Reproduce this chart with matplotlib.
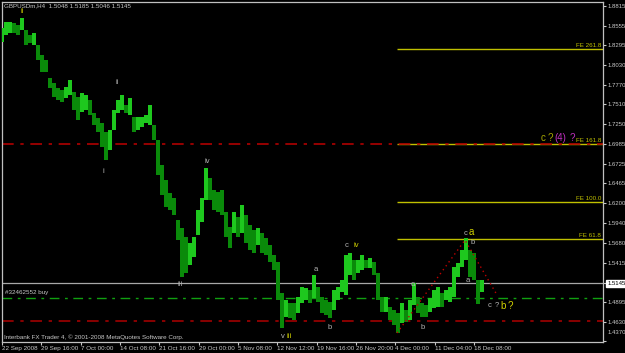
import numpy as np
import matplotlib
matplotlib.use('Agg')
import matplotlib.pyplot as plt
import matplotlib.transforms as mtransforms

# H4 bar highs / lows (one entry every ~4 px)
high = [1.8524, 1.8603, 1.8603, 1.8590, 1.8564, 1.8656, 1.8497, 1.8431, 1.8458, 1.8298,
        1.8166, 1.8099, 1.7861, 1.7795, 1.7728, 1.7702, 1.7742, 1.7834, 1.7675, 1.7609,
        1.7662, 1.7636, 1.7569, 1.7397, 1.7331, 1.7265, 1.7145, 1.7172, 1.7437, 1.7569,
        1.7636, 1.7503, 1.7596, 1.7344, 1.7344, 1.7344, 1.7371, 1.7503, 1.7238, 1.7039,
        1.6708, 1.6509, 1.6337, 1.6270, 1.5979, 1.5873, 1.5753, 1.5674, 1.5753, 1.6111,
        1.6270, 1.6668, 1.6535, 1.6376, 1.6350, 1.6376, 1.6085, 1.5886, 1.6085, 1.6019,
        1.6177, 1.6045, 1.5912, 1.5846, 1.5873, 1.5806, 1.5740, 1.5647, 1.5515, 1.5422,
        1.5011, 1.4918, 1.4878, 1.4878, 1.4958, 1.5090, 1.5077, 1.5051, 1.5250, 1.5090,
        1.4958, 1.4918, 1.4892, 1.5051, 1.5090, 1.5183, 1.5515, 1.5541, 1.5448, 1.5448,
        1.5515, 1.5448, 1.5475, 1.5422, 1.5276, 1.4958, 1.4958, 1.4825, 1.4786, 1.4746,
        1.4878, 1.4786, 1.4918, 1.5144, 1.4958, 1.4878, 1.4852, 1.4945, 1.5051, 1.5090,
        1.5011, 1.5051, 1.5090, 1.5356, 1.5409, 1.5581, 1.5740, 1.5581, 1.5541, 1.5183,
        1.5183]
low = [1.8338, 1.8431, 1.8458, 1.8458, 1.8431, 1.8497, 1.8298, 1.8325, 1.8298, 1.8099,
       1.7941, 1.7941, 1.7728, 1.7609, 1.7569, 1.7543, 1.7596, 1.7636, 1.7437, 1.7304,
       1.7410, 1.7437, 1.7371, 1.7238, 1.7145, 1.6946, 1.6774, 1.6906, 1.7172, 1.7397,
       1.7437, 1.7397, 1.7371, 1.7145, 1.7172, 1.7212, 1.7265, 1.7238, 1.7039, 1.6575,
       1.6310, 1.6151, 1.6111, 1.6045, 1.5713, 1.5223, 1.5276, 1.5382, 1.5488, 1.5780,
       1.5952, 1.6244, 1.6244, 1.6111, 1.6085, 1.6045, 1.5753, 1.5607, 1.5806, 1.5753,
       1.5806, 1.5674, 1.5581, 1.5541, 1.5647, 1.5541, 1.5515, 1.5422, 1.5316, 1.4918,
       1.4547, 1.4693, 1.4680, 1.4653, 1.4746, 1.4878, 1.4918, 1.4878, 1.4945, 1.4892,
       1.4746, 1.4719, 1.4680, 1.4786, 1.4918, 1.5024, 1.4985, 1.5250, 1.5183, 1.5276,
       1.5316, 1.5342, 1.5342, 1.5250, 1.4918, 1.4759, 1.4759, 1.4653, 1.4587, 1.4481,
       1.4613, 1.4627, 1.4653, 1.4852, 1.4746, 1.4693, 1.4693, 1.4759, 1.4812, 1.4825,
       1.4825, 1.4918, 1.4892, 1.4958, 1.5223, 1.5356, 1.5448, 1.5223, 1.5183, 1.4865,
       1.5024]

date_labels = ['22 Sep 2008', '29 Sep 16:00', '7 Oct 00:00', '14 Oct 08:00', '21 Oct 16:00',
               '29 Oct 00:00', '5 Nov 08:00', '12 Nov 12:00', '19 Nov 16:00', '26 Nov 20:00',
               '4 Dec 00:00', '11 Dec 04:00', '18 Dec 08:00']
price_ticks = [1.8815, 1.8555, 1.8295, 1.8030, 1.7770, 1.7510, 1.7250, 1.6985, 1.6725,
               1.6465, 1.6200, 1.5940, 1.5680, 1.5415, 1.5145, 1.4895, 1.4630, 1.4370]
current_price = 1.5145
buy_price = 1.4950
stop_price = 1.4635
target_price = 1.6982
fe_levels = [1.8240, 1.6982, 1.6213, 1.5726]
fe_names = ['FE 261.8', 'FE 161.8', 'FE 100.0', 'FE 61.8']
zz_bar = [98.75, 115.75, 123.75]
zz_price = [1.4481, 1.5713, 1.4985]

BG = 'black'
FG = '#c8c8c8'
WAVE = '#b4b4b4'
YEL = '#d2d200'
FE_COL = '#c0c000'
SMALL = 4.5
plt.rcParams['font.family'] = ['Liberation Sans', 'DejaVu Sans']

fig = plt.figure(figsize=(6.25, 3.53), dpi=100, facecolor=BG)
ax = fig.add_axes([2/625, 11.5/353, 601/625, 340/353], facecolor=BG)

idx = np.arange(len(high))
hi = np.array(high)
lo = np.array(low)
mid = (hi + lo) / 2
up = np.r_[True, mid[1:] >= mid[:-1]]
cols = np.where(up, '#1ec81e', '#0a8a0a')
ax.bar(idx, hi - lo, bottom=lo, width=0.9, color=cols, linewidth=0, zorder=3)

# horizontal levels
ax.axhline(current_price, color='#a8a8a8', lw=0.9, zorder=2)
ax.axhline(buy_price, color='#10a010', lw=1, ls=(0, (7, 4, 2, 4)), zorder=2)
ax.axhline(stop_price, color='#a00000', lw=1.2, ls=(0, (7, 4, 2, 4)), zorder=2)
ax.hlines(fe_levels, zz_bar[0], 150.25, color=FE_COL, lw=1, zorder=2)
ax.axhline(target_price, color='#b00000', lw=1.2, ls=(0, (7, 4, 2, 4)), zorder=2.5)
for lvl, name in zip(fe_levels, fe_names):
    ax.text(149.8, lvl + 0.0012, name, color=FE_COL, fontsize=SMALL, ha='right', va='bottom')

ax.plot(zz_bar, zz_price, color='#c00000', lw=1, ls=(0, (1, 2.5)), zorder=4)

# wave labels
def lab(x, y, s, c=WAVE, fs=5.5):
    ax.text(x, y, s, color=c, fontsize=fs, ha='center', va='center', zorder=5)

lab(5, 1.8745, 'ii', YEL)
lab(28.75, 1.7795, 'ii')
lab(25.25, 1.6615, 'i')
lab(51.25, 1.6748, 'iv')
lab(44.5, 1.5117, 'iii')
lab(70.25, 1.4428, 'v')
lab(71.9, 1.4428, 'iii', YEL)
lab(78.5, 1.5329, 'a')
lab(82, 1.4560, 'b')
lab(86.25, 1.5634, 'c')
lab(88.5, 1.5634, 'iv', YEL)
lab(102.75, 1.5130, 'a')
lab(105.25, 1.4560, 'b')
lab(116, 1.5806, 'c')
lab(117.4, 1.5815, 'a', YEL, 7)
lab(117.75, 1.5674, 'b')
lab(116.5, 1.5170, 'a')
lab(122, 1.4839, 'c')
lab(123.6, 1.4839, '?')
lab(125.3, 1.4845, 'b', YEL, 7)
lab(127.1, 1.4845, '?', YEL, 7)
lab(135.3, 1.7066, 'c', '#a8a800', 7)
lab(137.1, 1.7066, '?', '#a8a800', 7)
lab(139.6, 1.7066, '(4)', '#c030c0', 7)
lab(142.6, 1.7066, '?', '#c030c0', 7)

ax.text(0.0035, 0.987, 'GBPUSDm,H4  1.5048 1.5185 1.5046 1.5145', transform=ax.transAxes,
        color=FG, fontsize=SMALL, va='center', ha='left')
ax.text(0.75, 1.5011, '#32462552 buy', color=FG, fontsize=SMALL, va='center', ha='left')
ax.text(0.0035, 0.013, 'Interbank FX Trader 4, \u00a9 2001-2008 MetaQuotes Software Corp.',
        transform=ax.transAxes, color=FG, fontsize=SMALL, va='center', ha='left')

ax.set_xlim(0, 150.25)
ax.set_ylim(1.4368, 1.8875)

step = 9.83
ax.set_xticks(np.arange(len(date_labels)) * step)
ax.set_xticklabels(date_labels, ha='left')
ax.set_yticks(price_ticks)
ax.set_yticklabels([f'{p:.4f}' for p in price_ticks])
ax.yaxis.tick_right()
ax.tick_params(axis='both', colors=FG, labelsize=SMALL, length=2.5, width=0.8, pad=1)
ax.tick_params(axis='y', labelsize=4.3, pad=0.5)

for lbl in ax.get_yticklabels():
    if lbl.get_text() == '1.5145':
        lbl.set_color('black')
        lbl.set_bbox(dict(facecolor='white', edgecolor='white', pad=0.5))
    if lbl.get_text() == '1.4370':
        lbl.set_transform(lbl.get_transform() +
                          mtransforms.ScaledTranslation(0, 7/72, fig.dpi_scale_trans))

for sp in ax.spines.values():
    sp.set_color('#c0c0c0')
    sp.set_linewidth(0.9)

fig.savefig('out.png', dpi=100, facecolor=BG)
